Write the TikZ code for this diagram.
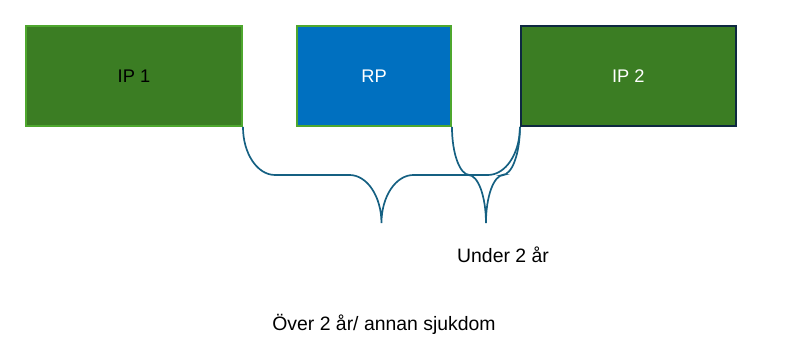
\documentclass[tikz,border=0pt]{standalone}
\usepackage{fontspec}
\setmainfont{Liberation Sans}
\usepackage{tikz}
\usetikzlibrary{calc,positioning}

\definecolor{ipgreen}{HTML}{3B7D23}
\definecolor{lightgreen}{HTML}{4EA72E}
\definecolor{darknavy}{HTML}{0E2841}
\definecolor{rpblue}{HTML}{0070C0}
\definecolor{bracecol}{HTML}{156082}

\tikzset{
  period/.style={rectangle, minimum height=2.5cm, line width=1.4pt, inner sep=0pt,
    font=\fontsize{13}{15}\selectfont},
  curly/.style={draw=bracecol, line width=1.2pt},
  label text/.style={font=\fontsize{13.8}{16}\selectfont, inner sep=0pt}
}

\begin{document}
\begin{tikzpicture}
      % Fixed frame (same proportions as the slide)
      \useasboundingbox (0,0) rectangle (20.1,8.65);

      % The three periods
      \node[period, fill=ipgreen, draw=lightgreen, minimum width=5.4cm] (ip1) at (3.35,6.75) {IP 1};
      \node[period, fill=rpblue, draw=lightgreen, minimum width=3.85cm, text=white] (rp) at (9.35,6.75) {RP};
      \node[period, fill=ipgreen, draw=darknavy, minimum width=5.375cm, text=white] (ip2) at (15.71,6.75) {IP 2};

      % Tips of the two braces
      \coordinate (longtip) at ($(ip1.south east)!0.5!(ip2.south west)+(0,-2.4)$);
      \coordinate (shorttip) at ($(rp.south east)!0.5!(ip2.south west)+(0,-2.4)$);

      % Long brace: IP 1 -> IP 2
      \draw[curly] (ip1.south east)
        arc[start angle=180, end angle=270, x radius=0.8, y radius=1.2]
        -- ($(longtip)+(-0.8,1.2)$)
        arc[start angle=90, end angle=0, x radius=0.8, y radius=1.2]
        arc[start angle=180, end angle=90, x radius=0.8, y radius=1.2]
        -- ($(ip2.south west)+(-0.8,-1.2)$)
        arc[start angle=270, end angle=360, x radius=0.8, y radius=1.2];

      % Short brace: RP -> IP 2
      \draw[curly] (rp.south east)
        arc[start angle=180, end angle=270, x radius=0.4375, y radius=1.2]
        -- ($(shorttip)+(-0.4375,1.2)$)
        arc[start angle=90, end angle=0, x radius=0.4375, y radius=1.2]
        arc[start angle=180, end angle=90, x radius=0.4375, y radius=1.2]
        -- ($(ip2.south west)+(-0.4375,-1.2)$)
        arc[start angle=270, end angle=360, x radius=0.4375, y radius=1.2];

      % Labels
      \node[label text] (under) at (12.575,2.275) {Under 2 år};
      \node[label text] (over) at (9.6,0.55) {Över 2 år/ annan sjukdom};
    \end{tikzpicture}
\end{document}
